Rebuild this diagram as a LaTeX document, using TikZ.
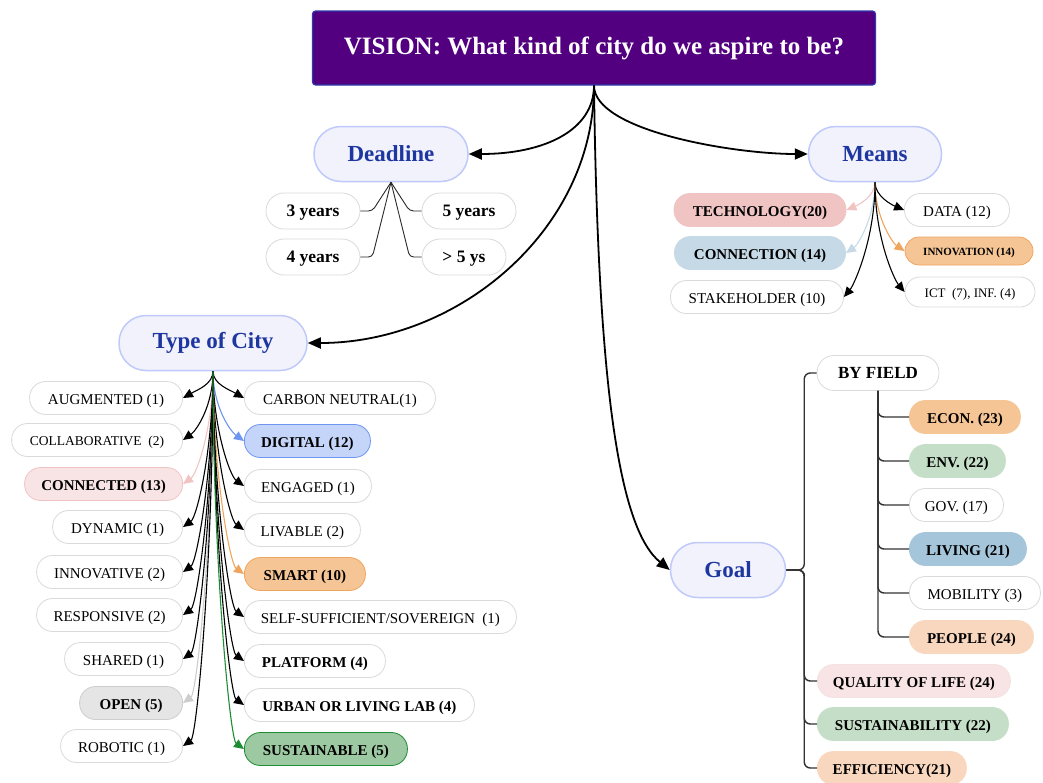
\documentclass[tikz,border=0pt]{standalone}
\usepackage{fontspec}
\setmainfont{Liberation Serif}
\usetikzlibrary{arrows.meta}

\definecolor{visionfill}{RGB}{82,0,128}
\definecolor{visionedge}{RGB}{45,60,170}
\definecolor{topicfill}{RGB}{242,242,252}
\definecolor{topicedge}{RGB}{192,202,250}
\definecolor{topictext}{RGB}{30,55,160}
\definecolor{leafedge}{RGB}{218,218,218}
\definecolor{techpink}{RGB}{241,196,196}
\definecolor{connblue}{RGB}{197,218,230}
\definecolor{orangefill}{RGB}{245,197,150}
\definecolor{orangeedge}{RGB}{240,165,95}
\definecolor{palepink}{RGB}{248,228,228}
\definecolor{digitalfill}{RGB}{197,213,250}
\definecolor{digitaledge}{RGB}{110,150,240}
\definecolor{openfill}{RGB}{229,229,229}
\definecolor{openedge}{RGB}{205,205,205}
\definecolor{sustfill}{RGB}{157,201,162}
\definecolor{sustedge}{RGB}{30,140,50}
\definecolor{palegreen}{RGB}{197,222,200}
\definecolor{livingblue}{RGB}{165,198,218}
\definecolor{peach}{RGB}{249,215,190}
\definecolor{forkgray}{RGB}{40,40,40}
\definecolor{treegray}{RGB}{50,50,50}

\begin{document}
\begin{tikzpicture}[x=1pt,y=-1pt]
    % Definizione stili
    \tikzstyle{vision}=[draw=visionedge, line width=1.2pt, fill=visionfill, rounded corners=3pt, text=white, minimum width=563pt, minimum height=74pt, font=\bfseries\fontsize{25}{30}\selectfont]
    \tikzstyle{topic}=[draw=topicedge, line width=1.5pt, fill=topicfill, rounded corners=27pt, minimum height=55pt, text=topictext, font=\bfseries\fontsize{23}{27}\selectfont]
    \tikzstyle{leaf}=[draw=leafedge, line width=0.8pt, fill=white, rounded corners=16pt, minimum height=33pt, inner sep=0pt, text height=12pt, text depth=0pt, text=black, font=\fontsize{15}{18}\selectfont]
    \tikzstyle{boldleaf}=[leaf, font=\bfseries\fontsize{15}{18}\selectfont]
    \tikzstyle{mainref}=[-{Triangle[length=13pt,width=11pt]}, line width=1.8pt]
    \tikzstyle{ref}=[-{Triangle[length=10pt,width=9pt]}, line width=1.1pt]
    \tikzstyle{fork}=[line width=0.9pt, draw=forkgray, rounded corners=4pt]
    \tikzstyle{tree}=[line width=1.4pt, draw=treegray, rounded corners=6pt]

    \useasboundingbox (0,0) rectangle (1043,782);

    % Titolo
    \node[vision] (vision) at (594,48) {VISION: What kind of city do we aspire to be?};

    % Rami principali
    \node[topic, minimum width=154pt] (deadline) at (391,154) {Deadline};
    \node[topic, minimum width=133pt] (means) at (875,154) {Means};
    \node[topic, minimum width=188pt] (city) at (213,343) {Type of City};
    \node[topic, minimum width=115pt] (goal) at (728,570) {Goal};

    \draw[mainref] (vision.south) .. controls +(0,45) and +(75,0) .. (deadline.east);
    \draw[mainref] (vision.south) .. controls +(0,45) and +(-75,0) .. (means.west);
    \draw[mainref] (vision.south) .. controls +(0,143) and +(152,0) .. (city.east);
    \draw[mainref] (vision.south) .. controls +(4,313) and +(-49,-40) .. (goal.west);

    % Deadline
    \node[boldleaf, minimum width=94pt, minimum height=36pt, rounded corners=18pt, text height=11.6pt, font=\bfseries\fontsize{17.5}{20}\selectfont] (y3) at (313,211) {3 years};
    \node[boldleaf, minimum width=94pt, minimum height=36pt, rounded corners=18pt, text height=11.6pt, font=\bfseries\fontsize{17.5}{20}\selectfont] (y4) at (313,257) {4 years};
    \node[boldleaf, minimum width=94pt, minimum height=36pt, rounded corners=18pt, text height=11.6pt, font=\bfseries\fontsize{17.5}{20}\selectfont] (y5) at (469,211) {5 years};
    \node[boldleaf, minimum width=84pt, minimum height=36pt, rounded corners=18pt, text height=11.6pt, font=\bfseries\fontsize{17.5}{20}\selectfont] (y6) at (464,257) {> 5 ys};

    \draw[fork] (deadline.south) -- ([xshift=12pt]y3.east) -- (y3.east);
    \draw[fork] (deadline.south) -- ([xshift=12pt]y4.east) -- (y4.east);
    \draw[fork] (deadline.south) -- ([xshift=-12pt]y5.west) -- (y5.west);
    \draw[fork] (deadline.south) -- ([xshift=-12pt]y6.west) -- (y6.west);

    % Means
    \node[boldleaf, fill=techpink, draw=techpink, minimum width=172pt] (tech) at (760,210) {TECHNOLOGY(20)};
    \node[boldleaf, fill=connblue, draw=connblue, minimum width=171pt] (conn) at (760,253) {CONNECTION (14)};
    \node[leaf, minimum width=173pt] (stake) at (757,297) {STAKEHOLDER (10)};
    \node[leaf, minimum width=105pt] (data) at (957,210) {DATA (12)};
    \node[boldleaf, fill=orangefill, draw=orangeedge, minimum width=128pt, minimum height=28pt, rounded corners=14pt, text height=8.5pt, font=\bfseries\fontsize{11}{13}\selectfont] (innov) at (969,251) {INNOVATION (14)};
    \node[leaf, minimum width=130pt, minimum height=30pt, rounded corners=15pt, text height=10.4pt, font=\fontsize{13}{15}\selectfont] (ict) at (970,292) {ICT \ (7), INF. (4)};

    \draw[ref, color=techpink] (means.south) .. controls +(0,14) and +(12,-5) .. (tech.east);
    \draw[ref, color=connblue] (means.south) .. controls +(0,35) and +(12,-8) .. (conn.east);
    \draw[ref] (means.south) .. controls +(0,57) and +(10,-12) .. (stake.east);
    \draw[ref] (means.south) .. controls +(0,14) and +(-12,-5) .. (data.west);
    \draw[ref, color=orangeedge] (means.south) .. controls +(0,35) and +(-12,-8) .. (innov.west);
    \draw[ref] (means.south) .. controls +(0,57) and +(-10,-12) .. (ict.west);

    % Type of City - colonna sinistra
    \node[leaf, anchor=east, minimum width=153pt] (aug) at (183,398) {AUGMENTED (1)};
    \node[leaf, anchor=east, minimum width=171pt, text height=10.8pt, font=\fontsize{13.5}{16}\selectfont] (collab) at (183,440) {COLLABORATIVE \ (2)};
    \node[boldleaf, anchor=east, fill=palepink, draw=techpink, minimum width=158pt] (connected) at (183,484) {CONNECTED (13)};
    \node[leaf, anchor=east, minimum width=130pt] (dynamic) at (183,527) {DYNAMIC (1)};
    \node[leaf, anchor=east, minimum width=146pt] (innovative) at (183,572) {INNOVATIVE (2)};
    \node[leaf, anchor=east, minimum width=146pt] (responsive) at (183,615) {RESPONSIVE (2)};
    \node[leaf, anchor=east, minimum width=118pt] (shared) at (183,659) {SHARED (1)};
    \node[boldleaf, anchor=east, fill=openfill, draw=openedge, minimum width=103pt] (open) at (183,703) {OPEN (5)};
    \node[leaf, anchor=east, minimum width=122pt] (robotic) at (183,746) {ROBOTIC (1)};

    % Type of City - colonna destra
    \node[leaf, anchor=west, minimum width=191pt] (carbon) at (244,398) {CARBON NEUTRAL(1)};
    \node[boldleaf, anchor=west, fill=digitalfill, draw=digitaledge, minimum width=126pt] (digital) at (244,441) {DIGITAL (12)};
    \node[leaf, anchor=west, minimum width=127pt] (engaged) at (244,486) {ENGAGED (1)};
    \node[leaf, anchor=west, minimum width=116pt] (livable) at (244,530) {LIVABLE (2)};
    \node[boldleaf, anchor=west, fill=orangefill, draw=orangeedge, minimum width=121pt] (smart) at (244,574) {SMART (10)};
    \node[leaf, anchor=west, minimum width=272pt] (selfsuff) at (244,617) {SELF-SUFFICIENT/SOVEREIGN \ (1)};
    \node[boldleaf, anchor=west, minimum width=141pt] (platform) at (244,661) {PLATFORM (4)};
    \node[boldleaf, anchor=west, minimum width=230pt] (urban) at (244,705) {URBAN OR LIVING LAB (4)};
    \node[boldleaf, anchor=west, fill=sustfill, draw=sustedge, minimum width=163pt] (sustainable) at (244,749) {SUSTAINABLE (5)};

    % Frecce verso i tipi di citta
    \draw[ref] (city.south) .. controls +(0,13) and +(14,-8) .. (aug.east);
    \draw[ref] (city.south) .. controls +(0,34) and +(14,-10) .. (collab.east);
    \draw[ref, color=techpink] (city.south) .. controls +(0,56) and +(14,-10) .. (connected.east);
    \draw[ref] (city.south) .. controls +(0,78) and +(14,-10) .. (dynamic.east);
    \draw[ref] (city.south) .. controls +(0,100) and +(14,-10) .. (innovative.east);
    \draw[ref] (city.south) .. controls +(0,122) and +(14,-10) .. (responsive.east);
    \draw[ref] (city.south) .. controls +(0,144) and +(14,-10) .. (shared.east);
    \draw[ref, color=openedge] (city.south) .. controls +(0,166) and +(14,-10) .. (open.east);
    \draw[ref] (city.south) .. controls +(0,187) and +(14,-10) .. (robotic.east);
    \draw[ref] (city.south) .. controls +(0,13) and +(-14,-8) .. (carbon.west);
    \draw[ref, color=digitaledge] (city.south) .. controls +(0,35) and +(-14,-10) .. (digital.west);
    \draw[ref] (city.south) .. controls +(0,57) and +(-14,-10) .. (engaged.west);
    \draw[ref] (city.south) .. controls +(0,79) and +(-14,-10) .. (livable.west);
    \draw[ref, color=orangeedge] (city.south) .. controls +(0,101) and +(-14,-10) .. (smart.west);
    \draw[ref] (city.south) .. controls +(0,123) and +(-14,-10) .. (selfsuff.west);
    \draw[ref] (city.south) .. controls +(0,145) and +(-14,-10) .. (platform.west);
    \draw[ref] (city.south) .. controls +(0,167) and +(-14,-10) .. (urban.west);
    \draw[ref, color=sustedge] (city.south) .. controls +(0,189) and +(-14,-10) .. (sustainable.west);

    % Goal
    \node[boldleaf, minimum width=122pt, minimum height=35pt, rounded corners=17pt, text height=11.3pt, font=\bfseries\fontsize{17}{20}\selectfont] (byfield) at (878,373) {BY FIELD};
    \node[boldleaf, anchor=west, fill=orangefill, draw=orangefill, minimum width=111pt] (econ) at (909,417) {ECON. (23)};
    \node[boldleaf, anchor=west, fill=palegreen, draw=palegreen, minimum width=96pt] (env) at (909,461) {ENV. (22)};
    \node[leaf, anchor=west, minimum width=94pt] (gov) at (909,505) {GOV. (17)};
    \node[boldleaf, anchor=west, fill=livingblue, draw=livingblue, minimum width=117pt] (living) at (909,549) {LIVING (21)};
    \node[leaf, anchor=west, minimum width=131pt] (mobility) at (909,593) {MOBILITY (3)};
    \node[boldleaf, anchor=west, fill=peach, draw=peach, minimum width=124pt] (people) at (909,637) {PEOPLE (24)};
    \node[boldleaf, anchor=west, fill=palepink, draw=palepink!80!leafedge, minimum width=193pt] (quality) at (817,681) {QUALITY OF LIFE (24)};
    \node[boldleaf, anchor=west, fill=palegreen, draw=palegreen, minimum width=191pt] (sustainability) at (817,724) {SUSTAINABILITY (22)};
    \node[boldleaf, anchor=west, fill=peach, draw=peach, minimum width=149pt] (efficiency) at (817,768) {EFFICIENCY(21)};

    \draw[tree] (goal.east) -- ++(18,0) |- (byfield.west);
    \draw[tree] (goal.east) -- ++(18,0) |- (quality.west);
    \draw[tree] (goal.east) -- ++(18,0) |- (sustainability.west);
    \draw[tree] (goal.east) -- ++(18,0) |- (efficiency.west);
    \draw[tree] (byfield.south) |- (econ.west);
    \draw[tree] (byfield.south) |- (env.west);
    \draw[tree] (byfield.south) |- (gov.west);
    \draw[tree] (byfield.south) |- (living.west);
    \draw[tree] (byfield.south) |- (mobility.west);
    \draw[tree] (byfield.south) |- (people.west);
\end{tikzpicture}
\end{document}
